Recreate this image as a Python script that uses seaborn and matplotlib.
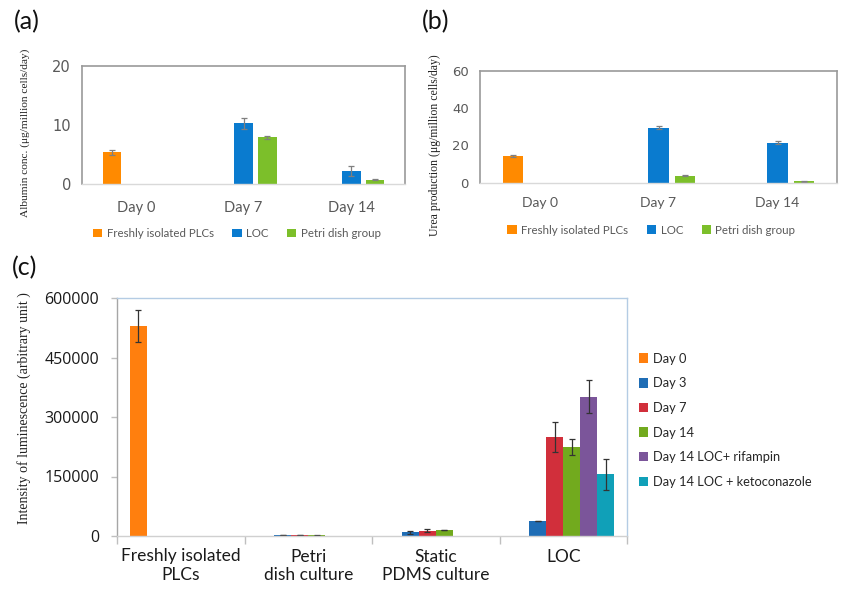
import numpy as np
import pandas as pd
import matplotlib
matplotlib.use("Agg")
import matplotlib.pyplot as plt
import seaborn as sns
from matplotlib.ticker import FixedLocator

sns.set_theme(style="white")
plt.rcParams['font.family'] = ['Lato', 'DejaVu Sans']

# ---------------- data ----------------
days_ab = ["Day 0", "Day 7", "Day 14"]
groups_ab = ["Freshly isolated PLCs", "LOC", "Petri dish group"]

albumin_fresh = [5.4, 0, 0]
albumin_loc = [0, 10.3, 2.2]
albumin_petri = [0, 7.9, 0.7]
albumin_fresh_err = [0.4, 0, 0]
albumin_loc_err = [0, 0.9, 0.8]
albumin_petri_err = [0, 0.2, 0.1]

urea_fresh = [14.6, 0, 0]
urea_loc = [0, 29.6, 21.6]
urea_petri = [0, 3.9, 0.9]
urea_fresh_err = [0.5, 0, 0]
urea_loc_err = [0, 1.0, 1.0]
urea_petri_err = [0, 0.3, 0.2]

cats_c = ["Freshly isolated\nPLCs", "Petri\ndish culture", "Static\nPDMS culture", "LOC"]
series_c = ["Day 0", "Day 3", "Day 7", "Day 14", "Day 14 LOC+ rifampin", "Day 14 LOC + ketoconazole"]
lum_day0 = [529000, 0, 0, 0]
lum_day3 = [0, 2000, 9300, 37900]
lum_day7 = [0, 2500, 13500, 249400]
lum_day14 = [0, 1500, 15200, 224200]
lum_rif = [0, 0, 0, 351400]
lum_keto = [0, 0, 0, 155100]
lum_day0_err = [40000, 0, 0, 0]
lum_day3_err = [0, 500, 3000, 1000]
lum_day7_err = [0, 500, 4000, 37000]
lum_day14_err = [0, 500, 1000, 21000]
lum_rif_err = [0, 0, 0, 42000]
lum_keto_err = [0, 0, 0, 40000]

yticks_a = [0, 10, 20]
yticks_b = [0, 20, 40, 60]
yticks_c = [0, 150000, 300000, 450000, 600000]

colors_ab = ["#FF8A00", "#0A7BCF", "#7CBF2A"]
colors_c = ["#FF7F0E", "#1F6DB5", "#D12F3B", "#72AA1E", "#7B559A", "#10A0B8"]

# ---------------- figure ----------------
fig = plt.figure(figsize=(8.55, 5.95), dpi=100)
ax_a = fig.add_axes([82/855, 1-184/595, 323/855, 118/595])
ax_b = fig.add_axes([480/855, 1-183/595, 357/855, 112.5/595])
ax_c = fig.add_axes([117/855, 1-536/595, 510/855, 238/595])


def long_df(cats, groups, vals):
    rows = []
    for g, v in zip(groups, vals):
        for c, x in zip(cats, v):
            rows.append({"cat": c, "grp": g, "val": x})
    return pd.DataFrame(rows)


def add_errors(ax, vals, errs, color, capsize, lw):
    for cont, v, e in zip(ax.containers, vals, errs):
        for bar, vv, ee in zip(cont, v, e):
            if vv > 0 and ee > 0:
                xc = bar.get_x() + bar.get_width() / 2
                ax.errorbar(xc, vv, yerr=ee, fmt="none", ecolor=color,
                            elinewidth=lw, capsize=capsize, capthick=lw)


def small_panel(ax, vals, errs, yticks, ylim, ysize, xsize, xpad):
    df = long_df(days_ab, groups_ab, vals)
    sns.barplot(data=df, x="cat", y="val", hue="grp", hue_order=groups_ab,
                order=days_ab, palette=colors_ab, width=0.667, gap=0.22,
                saturation=1, errorbar=None, ax=ax, linewidth=0, legend=True)
    add_errors(ax, vals, errs, "#7f7f7f", 2.5, 0.9)
    ax.set_ylim(*ylim)
    ax.set_yticks(yticks)
    ax.set_yticklabels([str(v) for v in yticks], fontfamily="DejaVu Sans",
                       fontsize=ysize, color="#595959")
    ax.set_xlim(-0.5, 2.5)
    ax.set_xlabel("")
    ax.set_ylabel("")
    for s in ["left", "top", "right"]:
        ax.spines[s].set_color("#9a9a9a")
        ax.spines[s].set_linewidth(1.2)
    ax.spines["bottom"].set_color("#d9d9d9")
    ax.spines["bottom"].set_linewidth(1.0)
    ax.tick_params(axis="both", length=0)
    ax.tick_params(axis="y", pad=8)
    ax.tick_params(axis="x", labelsize=xsize, pad=xpad, labelcolor="#595959")
    leg = ax.legend(loc="center", bbox_to_anchor=(0.48, -0.42), ncol=3, frameon=False,
                    fontsize=8.3, handlelength=0.8, handleheight=0.8,
                    handletextpad=0.4, columnspacing=1.6)
    for t in leg.get_texts():
        t.set_color("#595959")


small_panel(ax_a, [albumin_fresh, albumin_loc, albumin_petri],
            [albumin_fresh_err, albumin_loc_err, albumin_petri_err], yticks_a, (0, 20),
            10.5, 10.5, 12)
small_panel(ax_b, [urea_fresh, urea_loc, urea_petri],
            [urea_fresh_err, urea_loc_err, urea_petri_err], yticks_b, (0, 60),
            9.5, 10, 10)

# ---------------- panel c ----------------
vals_c = [lum_day0, lum_day3, lum_day7, lum_day14, lum_rif, lum_keto]
errs_c = [lum_day0_err, lum_day3_err, lum_day7_err, lum_day14_err, lum_rif_err, lum_keto_err]
dfc = long_df(cats_c, series_c, vals_c)
sns.barplot(data=dfc, x="cat", y="val", hue="grp", hue_order=series_c, order=cats_c,
            palette=colors_c, width=0.8, gap=0, saturation=1, errorbar=None, ax=ax_c,
            linewidth=0)
add_errors(ax_c, vals_c, errs_c, "#333333", 2.5, 0.9)
ax_c.set_ylim(0, 600000)
ax_c.set_yticks(yticks_c)
ax_c.set_yticklabels([str(v) for v in yticks_c], fontfamily="Open Sans",
                     fontsize=11.5, color="#1a1a1a")
ax_c.set_xlim(-0.5, 3.5)
ax_c.set_xlabel("")
ax_c.set_ylabel("")
ax_c.spines["top"].set_color("#b4cce4")
ax_c.spines["right"].set_color("#b4cce4")
ax_c.spines["left"].set_color("#a6a6a6")
ax_c.spines["bottom"].set_color("#d0d0d0")
for s in ax_c.spines.values():
    s.set_linewidth(1.0)
ax_c.xaxis.set_minor_locator(FixedLocator([-0.5, 0.5, 1.5, 2.5, 3.5]))
ax_c.tick_params(axis="x", which="major", length=0, labelsize=12.5, pad=9,
                 labelcolor="#1a1a1a")
ax_c.tick_params(axis="x", which="minor", bottom=True, length=6, width=1.0, color="#bfbfbf",
                 direction="out")
ax_c.tick_params(axis="y", left=True, length=4, width=1.0, color="#bfbfbf", pad=9)
handles, labels = ax_c.get_legend_handles_labels()
ax_c.legend_.remove()
fig.legend(handles, labels, loc="upper left", bbox_to_anchor=(627/855, 1-341/595),
           frameon=False, fontsize=9.3, handlelength=0.75, handleheight=0.75,
           handletextpad=0.4, labelspacing=0.98)

# ---------------- text ----------------
serif = ["Liberation Serif", "DejaVu Serif"]
fig.text(25/855, 1-133/595, "Albumin conc. (μg/million cells/day)", rotation=90,
         ha="center", va="center", fontsize=8.2, family=serif, color="#222222")
fig.text(435/855, 1-145/595, "Urea production (μg/million cells/day)", rotation=90,
         ha="center", va="center", fontsize=8.5, family=serif, color="#222222")
fig.text(24/855, 1-408/595, "Intensity of luminescence (arbitrary unit )", rotation=90,
         ha="center", va="center", fontsize=10, family=serif, color="#222222")

fig.text(27/855, 1-22/595, "(a)", ha="center", va="center", fontsize=18, color="#111111")
fig.text(436/855, 1-22/595, "(b)", ha="center", va="center", fontsize=18, color="#111111")
fig.text(25/855, 1-268/595, "(c)", ha="center", va="center", fontsize=18, color="#111111")

fig.savefig("out.png", dpi=100)
